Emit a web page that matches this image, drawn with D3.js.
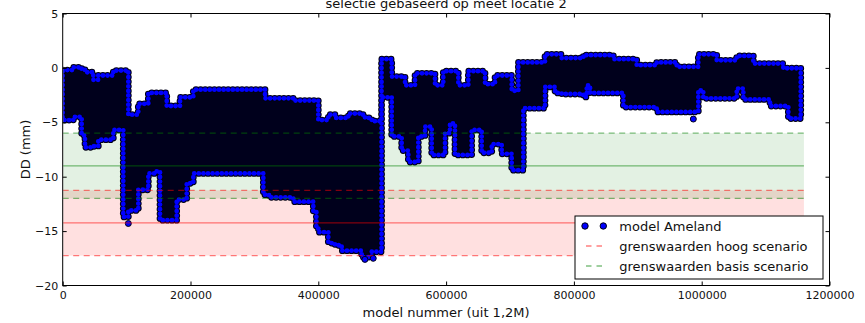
<!DOCTYPE html>
<html>
<head>
<meta charset="utf-8">
<script src="https://cdn.jsdelivr.net/npm/d3@7"></script>
<style>
  body { margin: 0; background: #fff; }
  svg { display: block; }
  text { font-family: "DejaVu Sans", sans-serif; fill: #111; }
</style>
</head>
<body>
<svg id="chart" width="865" height="323"></svg>
<script>
// Point cloud of model DD values, summarised per block of model numbers:
// each block starts at modelNr[i] and spans ddMin[i] .. ddMax[i] (mm).
const modelNr = [0, 16600, 29700, 34900, 47900, 55700, 79200, 94800, 102700, 118300,
  134000, 147100, 152300, 162800, 178400, 183600, 194100, 204400, 314000, 316600,
  324400, 360900, 392200, 397000, 400000, 415700, 426000, 436600, 447000, 467900,
  473000, 483600, 499000, 514900, 530500, 535700, 540900, 551400, 556500, 567000,
  577500, 582600, 595600, 598300, 606100, 613900, 619100, 634800, 640000, 655700,
  660900, 671400, 676600, 687000, 702700, 713100, 720900, 754800, 770500, 780900,
  814800, 820100, 825300, 861700, 877400, 898300, 929600, 960900, 994700, 1002500,
  1023500, 1054800, 1065200, 1080800, 1106900, 1127700, 1135600, 1155000];
const ddMax = [-0.2, 0.05, -0.1, -0.4, -1.1, -0.7, -0.25, -0.25, -4.3, -3.3,
  -2.3, -2.3, -2.3, -3.5, -3.5, -2.7, -2.7, -2.0, -2.0, -2.8,
  -2.8, -3.0, -3.0, -3.0, -4.8, -4.3, -4.6, -4.6, -4.2, -4.3,
  -4.6, -4.9, 0.8, -0.8, -0.8, -1.6, -1.6, -0.5, -0.5, -0.5,
  -0.5, -1.6, -0.3, -0.3, -0.3, -0.3, -1.6, -0.3, -0.3, -0.3,
  -1.5, -1.5, -0.7, -0.7, -2.1, 0.5, 0.5, 1.25, 1.25, 0.9,
  1.17, 1.17, 1.17, 0.8, 0.8, 0.25, 0.5, 0.1, 1.25, 1.25,
  0.7, 1.1, 1.1, 0.4, 0.4, -0.03, -0.03, -0.03];
const ddMin = [-4.8, -4.5, -6.2, -7.3, -7.2, -6.6, -5.7, -13.7, -13.1, -11.2,
  -9.7, -9.5, -14.0, -14.0, -12.1, -12.1, -10.6, -9.7, -11.6, -11.7,
  -11.9, -12.3, -13.2, -14.7, -15.1, -16.1, -16.3, -16.8, -16.8, -17.4,
  -17.4, -16.9, -2.7, -6.3, -7.6, -7.6, -8.65, -8.65, -6.3, -5.4,
  -8.0, -8.0, -8.0, -6.0, -5.1, -8.0, -8.0, -8.0, -5.7, -7.8,
  -7.8, -7.0, -7.0, -7.9, -9.4, -9.4, -3.7, -1.75, -2.3, -2.4,
  -2.67, -1.6, -2.3, -2.3, -3.6, -3.6, -4.05, -4.05, -2.06, -2.8,
  -2.8, -1.9, -2.9, -2.9, -3.5, -3.5, -4.65, -4.65];

// A few isolated points outside the blocks
const outlierNr = [102700, 473000, 486000, 986900];
const outlierDD = [-14.3, -17.6, -17.5, -4.7];

// Threshold values: lower bound, centre, upper bound of each scenario
const basisLimits = [-6, -9, -12];
const hoogLimits = [-11.25, -14.25, -17.25];
const limitEnd = 1160000;

const xTicks = [0, 200000, 400000, 600000, 800000, 1000000, 1200000];
const yTicks = [5, 0, -5, -10, -15, -20];

const legendLabels = ["model Ameland", "grenswaarden hoog scenario", "grenswaarden basis scenario"];

const svg = d3.select("#chart");
const L = 62.7, R = 829.5, T = 13.5, B = 285.5;

const x = d3.scaleLinear().domain([0, 1200000]).range([L, R]);
const y = d3.scaleLinear().domain([-20, 5]).range([B, T]);

const defs = svg.append("defs");
defs.append("clipPath").attr("id", "plotClip")
  .append("rect").attr("x", L + 0.5).attr("y", T).attr("width", R - L - 0.5).attr("height", B - T);
defs.append("filter").attr("id", "soft")
  .append("feGaussianBlur").attr("stdDeviation", 0.45);

const plot = svg.append("g").attr("clip-path", "url(#plotClip)");

// Scenario bands
const bands = [
  { lim: hoogLimits, color: "#ff0000", op: 0.12 },
  { lim: basisLimits, color: "#008000", op: 0.11 }
];
bands.forEach(b => {
  plot.append("rect")
    .attr("x", x(0)).attr("width", x(limitEnd) - x(0))
    .attr("y", y(b.lim[0])).attr("height", y(b.lim[2]) - y(b.lim[0]))
    .attr("fill", b.color).attr("fill-opacity", b.op);
});

// Scatter cloud
const blocks = modelNr.map((n, i) => ({ n, hi: ddMax[i], lo: ddMin[i] }));
const area = d3.area()
  .x(d => x(d.n))
  .y0(d => y(d.lo))
  .y1(d => y(d.hi))
  .curve(d3.curveStepAfter);
const cloudPath = area(blocks);

const cloud = plot.append("g").attr("filter", "url(#soft)");
cloud.append("path").attr("d", cloudPath).attr("fill", "#03031f");
// marker rims along the edge of the cloud
cloud.append("path").attr("d", cloudPath)
  .attr("fill", "none").attr("stroke", "#000014")
  .attr("stroke-width", 6.8).attr("stroke-linecap", "round")
  .attr("stroke-linejoin", "round").attr("stroke-dasharray", "0 4.6");
cloud.append("path").attr("d", cloudPath)
  .attr("fill", "none").attr("stroke", "#0000ff")
  .attr("stroke-width", 4.8).attr("stroke-linecap", "round")
  .attr("stroke-linejoin", "round").attr("stroke-dasharray", "0 4.6");

cloud.selectAll("circle.outlier")
  .data(outlierNr.map((n, i) => ({ n, v: outlierDD[i] })))
  .join("circle").attr("class", "outlier")
  .attr("cx", d => x(d.n)).attr("cy", d => y(d.v)).attr("r", 3)
  .attr("fill", "#0000ff").attr("stroke", "#000014").attr("stroke-width", 1);

// Threshold lines
const lineSets = [
  { lim: hoogLimits, color: "#ff0000" },
  { lim: basisLimits, color: "#008000" }
];
lineSets.forEach(s => {
  s.lim.forEach((v, i) => {
    plot.append("line")
      .attr("x1", x(0)).attr("x2", x(limitEnd))
      .attr("y1", y(v)).attr("y2", y(v))
      .attr("stroke", s.color).attr("stroke-opacity", 0.5)
      .attr("stroke-width", 1.3)
      .attr("stroke-dasharray", i === 1 ? null : "6,4.5");
  });
});

// Axes (ticks pointing inward on all four sides)
const fmtX = d3.format("d");
const gx = svg.append("g").attr("transform", `translate(0,${B})`)
  .call(d3.axisBottom(x).tickValues(xTicks).tickFormat(fmtX).tickSize(-4).tickSizeOuter(0).tickPadding(5.5));
const gy = svg.append("g").attr("transform", `translate(${L},0)`)
  .call(d3.axisLeft(y).tickValues(yTicks).tickSize(-4).tickSizeOuter(0).tickPadding(4.5));
const gxt = svg.append("g").attr("transform", `translate(0,${T})`)
  .call(d3.axisTop(x).tickValues(xTicks).tickFormat("").tickSize(-4).tickSizeOuter(0));
const gyr = svg.append("g").attr("transform", `translate(${R},0)`)
  .call(d3.axisRight(y).tickValues(yTicks).tickFormat("").tickSize(-4).tickSizeOuter(0));
[gx, gy, gxt, gyr].forEach(g => {
  g.select(".domain").remove();
  g.selectAll(".tick line").attr("stroke", "#000");
  g.selectAll(".tick text").attr("font-size", 11).attr("font-family", "DejaVu Sans").attr("fill", "#111");
});

svg.append("rect").attr("x", L).attr("y", T).attr("width", R - L).attr("height", B - T)
  .attr("fill", "none").attr("stroke", "#000").attr("stroke-width", 1);

// Titles
svg.append("text").attr("x", (L + R) / 2).attr("y", 8.3)
  .attr("text-anchor", "middle").attr("font-size", 13)
  .text("selectie gebaseerd op meet locatie 2");
svg.append("text").attr("x", (L + R) / 2).attr("y", 316.5)
  .attr("text-anchor", "middle").attr("font-size", 13)
  .text("model nummer (uit 1,2M)");
svg.append("text").attr("transform", `translate(30,${(T + B) / 2}) rotate(-90)`)
  .attr("text-anchor", "middle").attr("font-size", 13)
  .text("DD (mm)");

// Legend
const lg = svg.append("g");
lg.append("rect").attr("x", 575).attr("y", 216).attr("width", 248).attr("height", 63)
  .attr("fill", "#fff").attr("stroke", "#000").attr("stroke-width", 1);
const rowY = [226, 246, 266];
[585, 603.3].forEach(cx => {
  lg.append("circle").attr("cx", cx).attr("cy", rowY[0]).attr("r", 3.2)
    .attr("fill", "#0000ff").attr("stroke", "#000014").attr("stroke-width", 1);
});
[["#ff0000", 1], ["#008000", 2]].forEach(([c, r]) => {
  lg.append("line").attr("x1", 586).attr("x2", 603).attr("y1", rowY[r]).attr("y2", rowY[r])
    .attr("stroke", c).attr("stroke-opacity", 0.5).attr("stroke-width", 1.3)
    .attr("stroke-dasharray", "5.5,5");
});
legendLabels.forEach((t, i) => {
  lg.append("text").attr("x", 619.3).attr("y", rowY[i]).attr("dy", "0.36em")
    .attr("font-size", 13).text(t);
});
</script>
</body>
</html>
